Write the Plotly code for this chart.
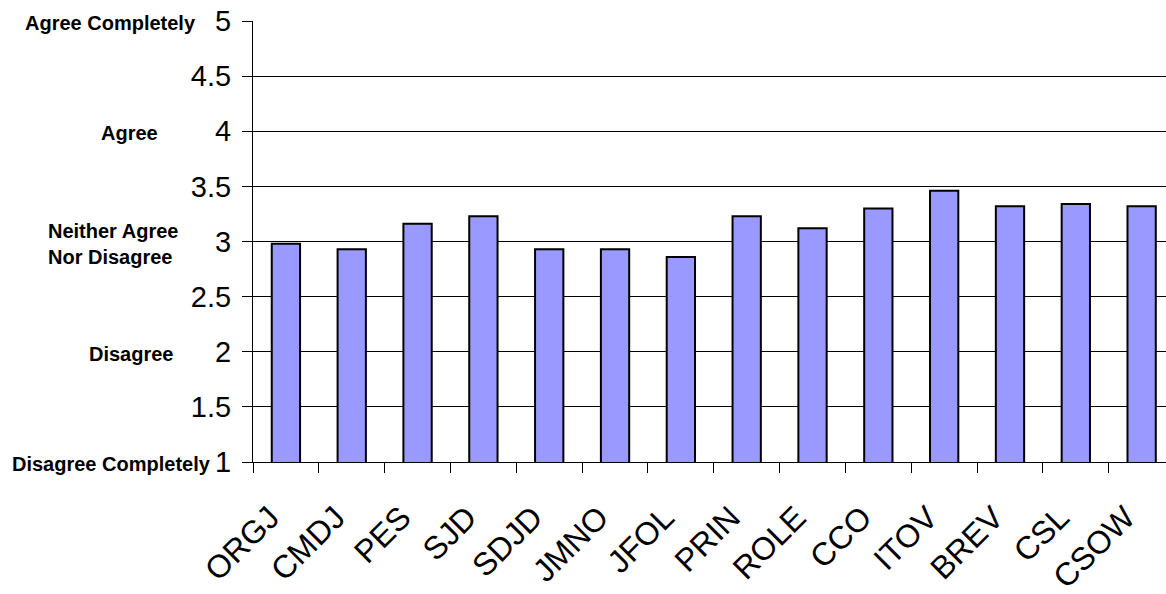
import plotly.graph_objects as go

categories = ["ORGJ", "CMDJ", "PES", "SJD", "SDJD", "JMNO", "JFOL",
              "PRIN", "ROLE", "CCO", "ITOV", "BREV", "CSL", "CSOW"]
values = [2.98, 2.93, 3.16, 3.23, 2.93, 2.93, 2.86,
          3.23, 3.12, 3.30, 3.46, 3.32, 3.34, 3.32]

y_tick_vals = [1, 1.5, 2, 2.5, 3, 3.5, 4, 4.5, 5]
y_tick_text = ["1", "1.5", "2", "2.5", "3", "3.5", "4", "4.5", "5"]
grid_vals = [1.5, 2, 2.5, 3, 3.5, 4, 4.5]

scale_labels = ["Agree Completely", "Agree", "Neither Agree<br>Nor Disagree",
                "Disagree", "Disagree Completely"]
scale_values = [5, 4, 3, 2, 1]
scale_label_x = [110, 129, 113, 131, 111]  # pixel centres of the labels

FONT = "Liberation Sans, Arial, sans-serif"
W, H = 1166, 594
L, R, T, B = 253, 0, 21, 132
PW = W - L - R

fig = go.Figure(go.Bar(
    x=categories, y=values,
    marker=dict(color="#9999FF", line=dict(color="black", width=2)),
    width=0.43,
))

for txt, v, px in zip(scale_labels, scale_values, scale_label_x):
    fig.add_annotation(
        x=(px - L) / PW, xref="paper", y=v, yref="y",
        text=f"<b>{txt}</b>", showarrow=False, xanchor="center", yanchor="middle",
        yshift=-2, font=dict(family=FONT, size=20, color="black"), align="left",
    )

fig.update_layout(
    width=W, height=H,
    margin=dict(l=L, r=R, t=T, b=B, autoexpand=False),
    paper_bgcolor="white", plot_bgcolor="white",
    showlegend=False,
    font=dict(family=FONT, color="black"),
    xaxis=dict(
        range=[-0.5, 13.37], automargin=False,
        showline=True, linecolor="black", linewidth=1,
        ticks="outside", ticklen=10, tickcolor="black", tickson="boundaries",
        tickangle=-45, tickfont=dict(family=FONT, size=32, color="black"),
        ticklabelstandoff=23, ticklabelshift=-16,
        showgrid=False,
    ),
    yaxis=dict(
        range=[1, 5], automargin=False,
        tickvals=y_tick_vals, ticktext=y_tick_text,
        showline=True, linecolor="black", linewidth=1,
        ticks="outside", ticklen=10, tickcolor="black",
        tickfont=dict(family=FONT, size=29, color="black"),
        ticklabelstandoff=5,
        showgrid=False, zeroline=False,
        minor=dict(tickvals=grid_vals, showgrid=True, gridcolor="black",
                   gridwidth=1, ticks=""),
    ),
)

fig.write_html(
    "out.html",
    config={"displayModeBar": False},
    post_script="document.body.style.margin='0px';document.body.style.overflow='hidden';",
)
